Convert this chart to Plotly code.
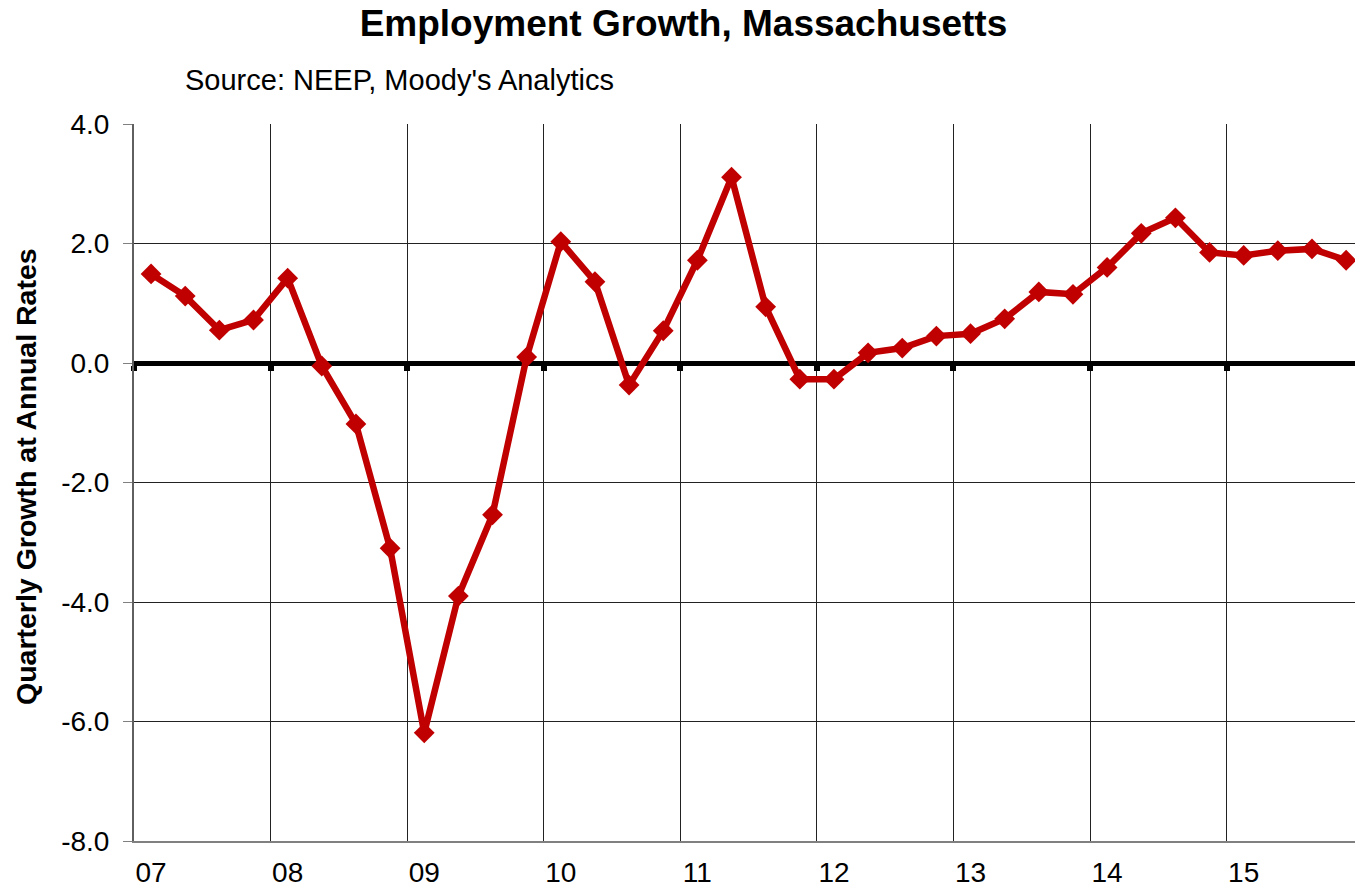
import plotly.graph_objects as go

years = [2007, 2008, 2009, 2010, 2011, 2012, 2013, 2014, 2015]
year_labels = ["07", "08", "09", "10", "11", "12", "13", "14", "15"]
quarters_per_year = 4
growth = [1.49, 1.12, 0.55, 0.72, 1.42, -0.05, -1.02, -3.10, -6.19, -3.90, -2.54, 0.10,
          2.03, 1.36, -0.37, 0.54, 1.72, 3.11, 0.94, -0.27, -0.27, 0.17, 0.25, 0.45,
          0.49, 0.74, 1.19, 1.15, 1.60, 2.17, 2.43, 1.85, 1.80, 1.88, 1.91, 1.72]
y_ticks = [-8, -6, -4, -2, 0, 2, 4]
y_tick_labels = ["-8.0", "-6.0", "-4.0", "-2.0", "0.0", "2.0", "4.0"]

# mid-quarter positions in fractional years
x_pos = [years[0] + (i + 0.5) / quarters_per_year for i in range(len(growth))]
label_pos = [y + 0.5 / quarters_per_year for y in years]

RED = "#C00000"
FONT = "Liberation Sans, Arial, sans-serif"

fig = go.Figure()
# invisible helper trace so the zero-crossing category axis (x2) is drawn
fig.add_trace(go.Scatter(
    x=x_pos, y=growth, xaxis="x2", mode="lines", opacity=0,
    showlegend=False, hoverinfo="skip",
))
fig.add_trace(go.Scatter(
    x=x_pos, y=growth, mode="lines+markers",
    line=dict(color=RED, width=6.5),
    marker=dict(symbol="diamond", size=16, color=RED),
    showlegend=False, hoverinfo="x+y",
))

x_range = [2007, 2015.94]

fig.update_layout(
    width=1355, height=891,
    margin=dict(l=134, r=0, t=124, b=50),
    paper_bgcolor="white", plot_bgcolor="white",
    font=dict(family=FONT, color="black"),
    title=dict(text="<b>Employment Growth, Massachusetts</b>",
               font=dict(size=37, family=FONT, color="black"),
               x=0.5044, xref="container", xanchor="center",
               y=1 - 23 / 891, yref="container", yanchor="middle"),
    xaxis=dict(
        range=x_range, tickvals=label_pos, ticktext=year_labels,
        showgrid=False, ticks="", tickfont=dict(size=28), ticklabelstandoff=5,
        showline=True, linecolor="#808080", linewidth=2,
        zeroline=False,
        minor=dict(tick0=2007, dtick=1, showgrid=True, gridcolor="#222222",
                   gridwidth=1, ticks=""),
    ),
    xaxis2=dict(
        range=x_range, overlaying="x", anchor="free", position=2 / 3,
        side="bottom", layer="below traces",
        tickvals=years, showticklabels=False, showgrid=False,
        showline=True, linecolor="black", linewidth=5,
        ticks="outside", ticklen=5, tickwidth=6, tickcolor="black",
        zeroline=False,
    ),
    yaxis=dict(
        range=[-8, 4], tickvals=y_ticks, ticktext=y_tick_labels,
        tickfont=dict(size=28), showgrid=True, gridcolor="#222222", gridwidth=1,
        showline=True, linecolor="#606060", linewidth=2,
        ticks="outside", ticklen=9, tickcolor="#808080", tickwidth=1,
        ticklabelstandoff=8, zeroline=False,
    ),
    annotations=[
        dict(text="Source: NEEP, Moody's Analytics", xref="paper", yref="paper",
             x=(183 - 134) / 1221, y=(841 - 80) / 717, xanchor="left", yanchor="middle",
             showarrow=False, font=dict(size=29, family=FONT, color="black")),
        dict(text="<b>Quarterly Growth at Annual Rates</b>", xref="paper", yref="paper",
             x=(26 - 134) / 1221, y=(841 - 477) / 717, xanchor="center", yanchor="middle",
             textangle=-90, showarrow=False,
             font=dict(size=28.5, family=FONT, color="black")),
    ],
)

fig.write_html("out.html", config={"displayModeBar": False},
               post_script="document.body.style.margin='0';document.body.style.overflow='hidden';")
